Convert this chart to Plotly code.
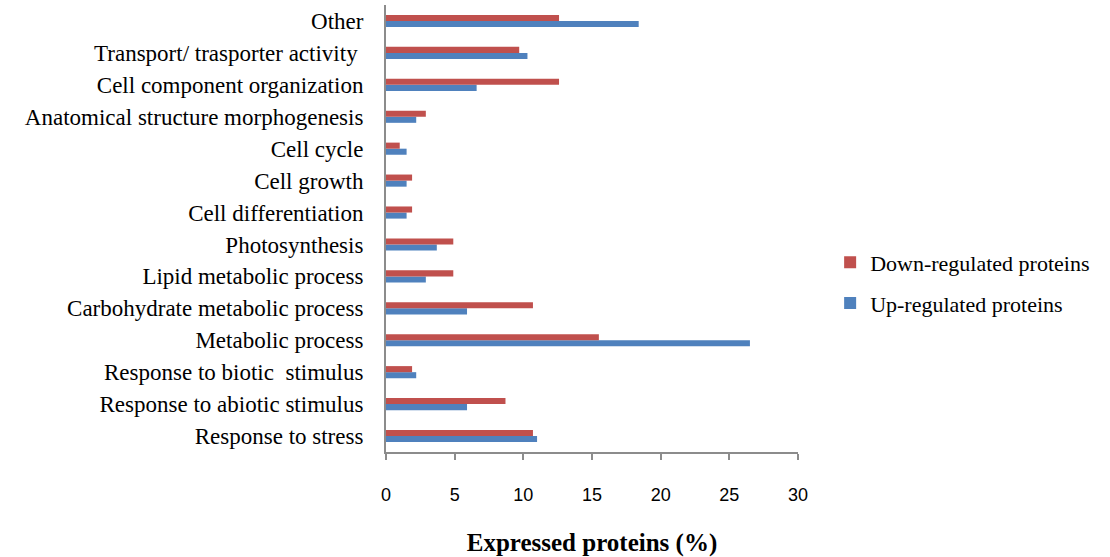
import plotly.graph_objects as go

# Functional categories, bottom to top on the y axis
categories = [
    "Response to stress",
    "Response to abiotic stimulus",
    "Response to biotic  stimulus",
    "Metabolic process",
    "Carbohydrate metabolic process",
    "Lipid metabolic process",
    "Photosynthesis",
    "Cell differentiation",
    "Cell growth",
    "Cell cycle",
    "Anatomical structure morphogenesis",
    "Cell component organization",
    "Transport/ trasporter activity ",
    "Other",
]

# Percentage of expressed proteins per category
up_regulated = [11.0, 5.9, 2.2, 26.5, 5.9, 2.9, 3.7, 1.5, 1.5, 1.5, 2.2, 6.6, 10.3, 18.4]
down_regulated = [10.7, 8.7, 1.9, 15.5, 10.7, 4.9, 4.9, 1.9, 1.9, 1.0, 2.9, 12.6, 9.7, 12.6]

x_ticks = [0, 5, 10, 15, 20, 25, 30]

fig = go.Figure()
fig.add_trace(go.Bar(
    y=categories, x=up_regulated, orientation="h",
    name="Up-regulated proteins", legendgroup="up", legendrank=2,
    marker=dict(color="#4F81BD", line=dict(width=0)),
))
fig.add_trace(go.Bar(
    y=categories, x=down_regulated, orientation="h",
    name="Down-regulated proteins", legendgroup="down", legendrank=1,
    marker=dict(color="#C0504D", line=dict(width=0)),
))

fig.update_layout(
    width=1110, height=557,
    margin=dict(l=386, r=312, t=5, b=105),
    paper_bgcolor="white", plot_bgcolor="white",
    barmode="group", bargap=0.62, bargroupgap=0,
    showlegend=True,
    legend=dict(
        x=1.078, y=0.378, xanchor="left", yanchor="middle",
        traceorder="grouped", tracegroupgap=9,
        font=dict(family="Liberation Serif", size=22, color="black"),
        bgcolor="rgba(0,0,0,0)",
    ),
    xaxis=dict(
        range=[0, 30], tickvals=x_ticks, ticktext=[str(v) for v in x_ticks],
        showgrid=False, zeroline=False,
        showline=True, linecolor="#8C8C8C", linewidth=2,
        ticks="outside", ticklen=6, tickwidth=2, tickcolor="#8C8C8C",
        tickfont=dict(family="Liberation Sans", size=18, color="black"),
        ticklabelstandoff=19,
        title=dict(text="<b>Expressed proteins (%)</b>", standoff=30,
                   font=dict(family="Liberation Serif", size=25, color="black")),
    ),
    yaxis=dict(
        type="category", categoryorder="array", categoryarray=categories,
        showgrid=False, zeroline=False,
        showline=True, linecolor="#8C8C8C", linewidth=2,
        ticks="", ticklabelstandoff=16,
        tickfont=dict(family="Liberation Serif", size=23, color="black"),
    ),
)

fig.write_html("out.html")
